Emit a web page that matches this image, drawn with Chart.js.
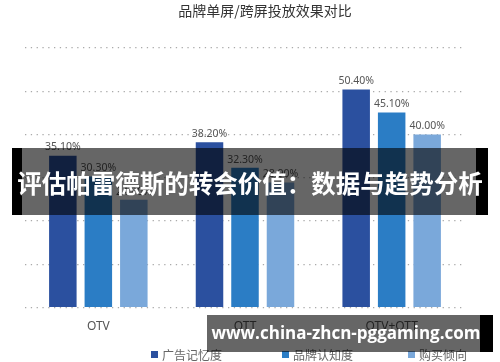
<!DOCTYPE html>
<html>
<head>
<meta charset="utf-8">
<script src="https://cdn.jsdelivr.net/npm/chart.js@4"></script>
<style>
html,body{margin:0;padding:0;background:#fff;}
#wrap{width:500px;height:362px;position:relative;}
</style>
</head>
<body>
<div id="wrap"><canvas id="c" width="500" height="362"></canvas></div>
<script>
const categories = ['OTV', 'OTT', 'OTV+OTT'];
const seriesNames = ['广告记忆度', '品牌认知度', '购买倾向'];
const adRecall = [35.1, 38.2, 50.4];
const brandAwareness = [30.3, 32.3, 45.1];
const purchaseIntent = [24.9, 28.9, 40.0];
const yTicks = [0, 10, 20, 30, 40, 50, 60];
const titleText = '品牌单屏/跨屏投放效果对比';
const bannerText = '评估帕雷德斯的转会价值：数据与趋势分析';
const watermarkText = 'www.china-zhcn-pggaming.com';
const colors = ['#2b509f', '#2b7dc5', '#7aa8da'];

const CJK = '"Noto Sans CJK SC", "Noto Sans", sans-serif';

const textPlugin = {
  id: 'texts',
  afterDatasetsDraw(chart) {
    const ctx = chart.ctx;
    ctx.save();
    ctx.font = '10.5px "Noto Sans", "Open Sans", sans-serif';
    ctx.fillStyle = '#555';
    ctx.textAlign = 'center';
    ctx.textBaseline = 'bottom';
    chart.data.datasets.forEach((ds, di) => {
      const meta = chart.getDatasetMeta(di);
      meta.data.forEach((bar, i) => {
        ctx.fillText(ds.data[i].toFixed(2) + '%', bar.x, bar.y - 3);
      });
    });
    ctx.restore();
  },
  afterDraw(chart) {
    const ctx = chart.ctx;
    ctx.save();
    ctx.font = '14px ' + CJK;
    ctx.fillStyle = '#333';
    ctx.textAlign = 'center';
    ctx.textBaseline = 'middle';
    ctx.fillText(titleText, 265, 11);
    ctx.font = '12px ' + CJK;
    ctx.textAlign = 'left';
    const legendX = [151, 282, 408];
    chart.data.datasets.forEach((ds, di) => {
      ctx.fillStyle = ds.backgroundColor;
      ctx.fillRect(legendX[di], 351, 7, 7);
      ctx.fillStyle = '#666';
      ctx.fillText(ds.label, legendX[di] + 11, 355);
    });
    ctx.restore();
  }
};

const bannerPlugin = {
  id: 'banner',
  afterDraw(chart) {
    const ctx = chart.ctx;
    ctx.save();
    ctx.fillStyle = 'rgba(0,0,0,0.6)';
    ctx.fillRect(22, 148, 454, 67);
    ctx.fillStyle = '#000';
    ctx.fillRect(12, 148, 10, 67);
    ctx.fillRect(476, 148, 12, 67);
    ctx.fillStyle = '#fff';
    ctx.font = 'bold 24.5px ' + CJK;
    ctx.textAlign = 'center';
    ctx.textBaseline = 'middle';
    ctx.fillText(bannerText, 250, 184);

    ctx.fillStyle = 'rgba(0,0,0,0.6)';
    ctx.fillRect(207, 315, 273, 37);
    ctx.fillStyle = '#000';
    ctx.fillRect(480, 315, 13, 37);
    ctx.fillStyle = '#fff';
    ctx.font = 'bold 17px "Open Sans", "Noto Sans", sans-serif';
    ctx.fillText(watermarkText, 346, 334);
    ctx.restore();
  }
};

new Chart(document.getElementById('c'), {
  type: 'bar',
  data: {
    labels: categories,
    datasets: [
      { label: seriesNames[0], data: adRecall, backgroundColor: colors[0] },
      { label: seriesNames[1], data: brandAwareness, backgroundColor: colors[1] },
      { label: seriesNames[2], data: purchaseIntent, backgroundColor: colors[2] }
    ]
  },
  options: {
    responsive: false,
    animation: false,
    devicePixelRatio: 1,
    layout: { padding: { left: 25, right: 35, top: 48, bottom: 24 } },
    datasets: { bar: { categoryPercentage: 0.726, barPercentage: 0.775 } },
    plugins: { legend: { display: false }, title: { display: false }, tooltip: { enabled: false } },
    scales: {
      x: {
        grid: { display: false },
        border: { display: false },
        ticks: { color: '#555', font: { size: 12, family: '"Noto Sans", sans-serif' }, padding: 4 }
      },
      y: {
        min: 0, max: 60,
        afterBuildTicks(axis) { axis.ticks = yTicks.map(v => ({ value: v })); },
        ticks: { display: false },
        border: { display: false, dash: [1.3, 4.5] },
        grid: { color: '#aaa', lineWidth: 1.3, drawTicks: false }
      }
    }
  },
  plugins: [textPlugin, bannerPlugin]
});
</script>
</body>
</html>
